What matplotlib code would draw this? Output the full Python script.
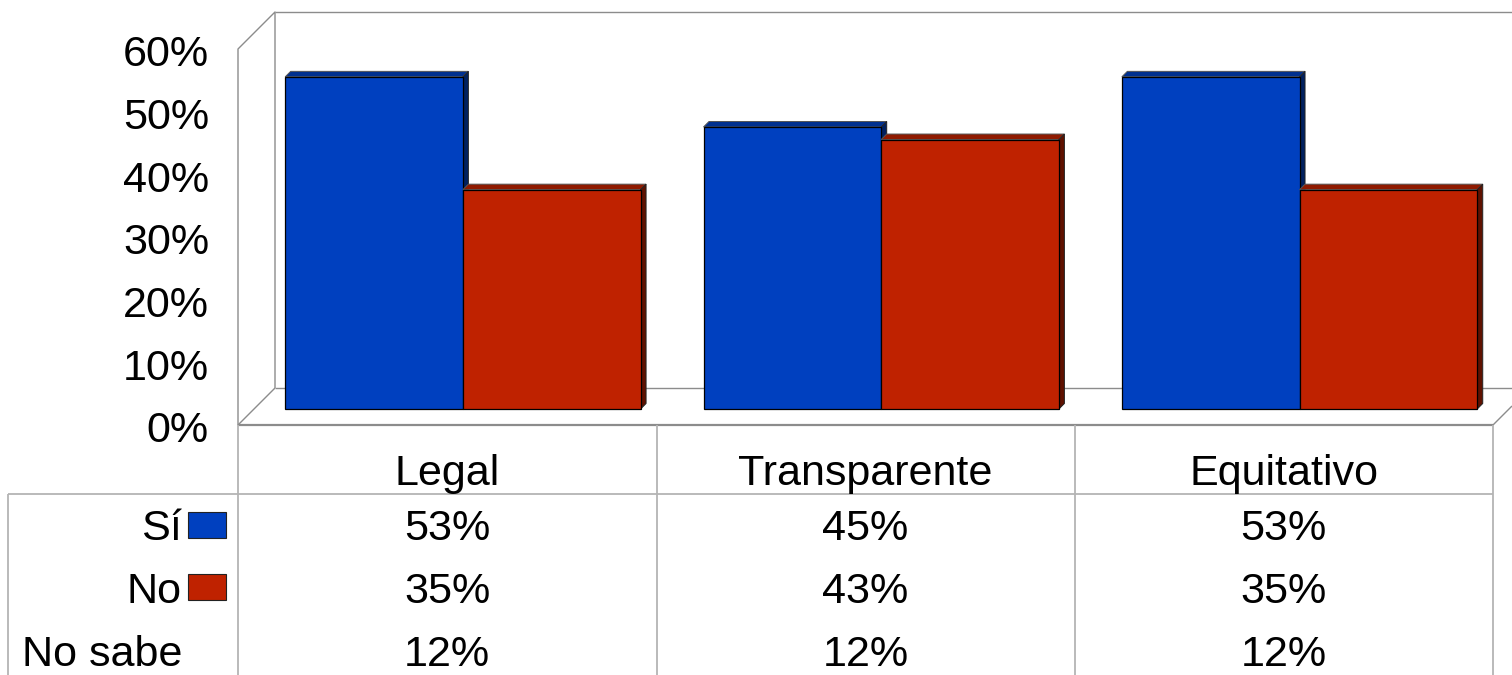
import matplotlib
matplotlib.use("Agg")
import matplotlib.pyplot as plt
from matplotlib.patches import Rectangle

plt.rcParams['font.family'] = ['Liberation Sans', 'DejaVu Sans']

categorias = ["Legal", "Transparente", "Equitativo"]
si = [53, 45, 53]
no = [35, 43, 35]
no_sabe = [12, 12, 12]
ticks_y = [0, 10, 20, 30, 40, 50, 60]

AZUL = ("#0040BF", "#00308F", "#00205F")
ROJO = ("#BF2200", "#8F1A00", "#5F1100")
CINZA = "#8C8C8C"
LINHA_TAB = "#B4B4B4"
FONTE = 31.1

W, H = 1512, 675
# area frontal do grafico em pixels
X0, X1, Y0, Y1 = 238, 1493, 425, 49

fig = plt.figure(figsize=(W / 100, H / 100), dpi=100)
ax = fig.add_axes([X0 / W, 1 - Y0 / H, (X1 - X0) / W, (Y0 - Y1) / H])
ax.set_xlim(0, 3)
ax.set_ylim(0, 60)
ax.axis("off")


# converte pixel da figura para coordenada dos dados
def px(x):
    return (x - X0) * 3 / (X1 - X0)


def py(y):
    return (Y0 - y) * 60 / (Y0 - Y1)


def linha(x, y, cor=CINZA, lw=1.0, z=1):
    ax.plot([px(v) for v in x], [py(v) for v in y], color=cor, lw=lw, zorder=z,
            clip_on=False, solid_capstyle="butt")


def texto(x, y, s, ha="center"):
    ax.text(x, y, s, ha=ha, va="center", fontsize=FONTE, clip_on=False)


# paredes e chao em perspectiva
linha([238, 238, 275, 275], [425, 49, 12, 388])
linha([275, 1512], [12, 12])
linha([275, 1512], [388, 388])
linha([238, 275], [425, 388])
linha([1493, 1512], [425, 406])
linha([238, 1493], [425, 425], lw=1.6)

# barras com as faces de profundidade
base = py(409)
largura = 177.7 * 3 / (X1 - X0)
desloc = px(238 + 15.7)
prof_x = 5.5 * 3 / (X1 - X0)
prof_y = 5.5 * 60 / (Y0 - Y1)


def barra(xe, v, cores, z):
    topo = v + base
    ax.bar(xe, v, largura, bottom=base, align="edge", color=cores[0],
           edgecolor="black", linewidth=0.9, zorder=z + 1, clip_on=False)
    ax.fill([xe, xe + prof_x, xe + largura + prof_x, xe + largura],
            [topo, topo + prof_y, topo + prof_y, topo],
            facecolor=cores[1], edgecolor="#555555", linewidth=0.7, zorder=z, clip_on=False)
    ax.fill([xe + largura, xe + largura + prof_x, xe + largura + prof_x, xe + largura],
            [base, base + prof_y, topo + prof_y, topo],
            facecolor=cores[2], edgecolor="#222222", linewidth=0.7, zorder=z, clip_on=False)


for i in range(len(categorias)):
    esq = i + 0.5 + desloc - largura
    barra(esq, si[i], AZUL, 3)
    barra(esq + largura, no[i], ROJO, 5)

# rotulos do eixo y
for t in ticks_y:
    texto(px(209), t - 6.5 * 60 / (Y0 - Y1), str(t) + "%", ha="right")

# tabela de dados
linha([8, X1], [494, 494], cor=LINHA_TAB, lw=1.3)
linha([8, 8], [494, 675], cor=LINHA_TAB, lw=1.3)
for xv in [238, 656.5, 1075, 1493]:
    linha([xv, xv], [425, 675], cor=LINHA_TAB, lw=1.3)

for i, cat in enumerate(categorias):
    xc = i + 0.5
    texto(xc, py(474.5), cat)
    texto(xc, py(529), str(si[i]) + "%")
    texto(xc, py(592), str(no[i]) + "%")
    texto(xc, py(655), str(no_sabe[i]) + "%")

texto(px(182), py(529), "Sí", ha="right")
texto(px(182), py(592), "No", ha="right")
texto(px(182), py(655), "No sabe", ha="right")

# amostras da legenda
for yb, cor in [(538, AZUL[0]), (600, ROJO[0])]:
    ax.add_patch(Rectangle((px(188), py(yb)), 38 * 3 / (X1 - X0), 26 * 60 / (Y0 - Y1),
                           facecolor=cor, edgecolor="#222222", linewidth=0.8, clip_on=False))

fig.savefig("out.png", dpi=100)
